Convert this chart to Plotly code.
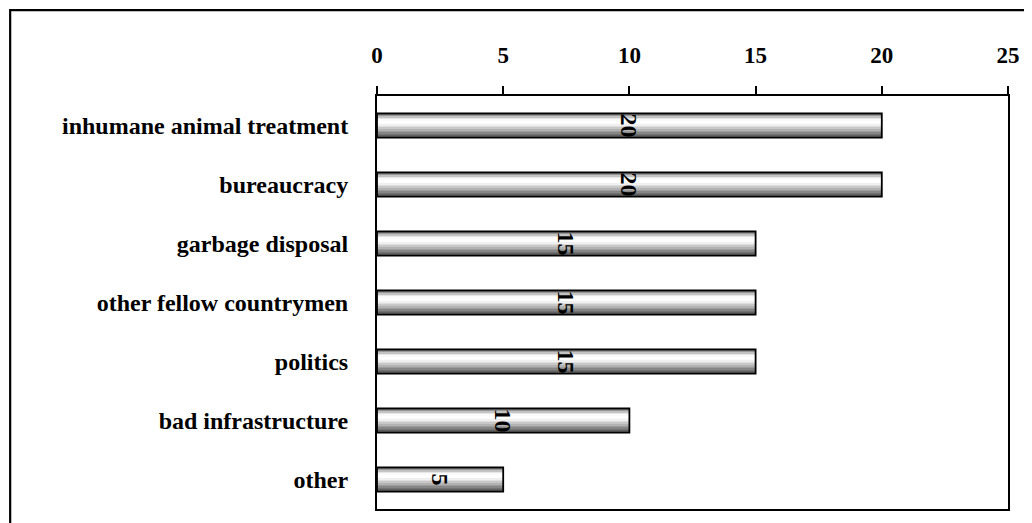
import plotly.graph_objects as go

categories = ["inhumane animal treatment", "bureaucracy", "garbage disposal",
              "other fellow countrymen", "politics", "bad infrastructure", "other"]
values = [20, 20, 15, 15, 15, 10, 5]
x_ticks = [0, 5, 10, 15, 20, 25]

FONT = "Liberation Serif"
BAR_W = 0.41

# vertical shading of the cylinder-like bars (top -> bottom), style only
shade = [110, 150, 195, 230, 250, 255, 252, 240, 222, 200, 178, 156, 134, 114, 96]

# the page places the figure 8px from the window's top-left corner
OFF = 8
L, T, R, B = 377 - OFF, 96 - OFF, 22, 13
W, H = 1032 - OFF, 523 - OFF
PW, PH = W - L - R, H - T - B

fig = go.Figure()
n = len(shade)
h = BAR_W / n
for i, g in enumerate(shade):
    fig.add_trace(go.Bar(
        x=values, y=categories, orientation="h",
        width=h * 1.08, offset=-BAR_W / 2 + i * h,
        marker=dict(color=f"rgb({g},{g},{g})", line=dict(width=0)),
        hoverinfo="skip", showlegend=False,
    ))

fig.add_trace(go.Bar(
    x=values, y=categories, orientation="h", width=BAR_W,
    marker=dict(color="rgba(0,0,0,0)", line=dict(color="black", width=1.8)),
    text=[str(v) for v in values], textposition="inside",
    insidetextanchor="middle", textangle=90, constraintext="none",
    textfont=dict(family=FONT, size=24, color="black", weight="bold"),
    showlegend=False,
))

fig.update_layout(
    width=W, height=H,
    margin=dict(l=L, r=R, t=T, b=B),
    paper_bgcolor="white", plot_bgcolor="white",
    barmode="overlay",
    font=dict(family=FONT, size=22, color="black", weight="bold"),
    xaxis=dict(side="top", range=[0, 25], tickvals=x_ticks,
               ticks="outside", ticklen=8, tickwidth=1.5, tickcolor="black",
               showline=True, linecolor="black", linewidth=2, mirror=True,
               showgrid=False, zeroline=False, ticklabelstandoff=14,
               tickfont=dict(family=FONT, size=23, color="black", weight="bold")),
    yaxis=dict(autorange="reversed", showline=True, linecolor="black", linewidth=2,
               mirror=True, showgrid=False, ticks="", ticklabelstandoff=22,
               tickfont=dict(family=FONT, size=24, color="black", weight="bold")),
    shapes=[dict(type="rect", xref="paper", yref="paper",
                 x0=(1 - L) / PW, x1=(W + 10 - L) / PW,
                 y0=-(B + 10) / PH, y1=(PH + T - 2) / PH,
                 line=dict(color="black", width=2.2), layer="above")],
)

fig.write_html("out.html")
